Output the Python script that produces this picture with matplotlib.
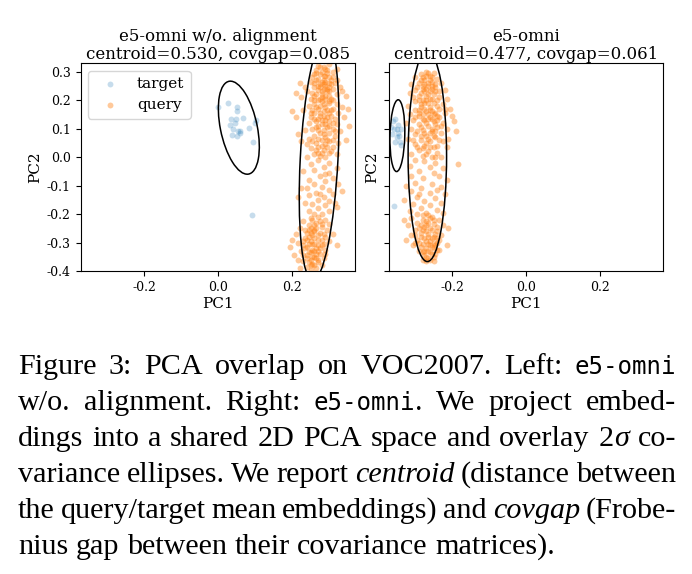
import matplotlib
matplotlib.use("Agg")
import matplotlib.pyplot as plt
from matplotlib.patches import Ellipse

plt.rcParams['font.family'] = 'DejaVu Serif'
plt.rcParams['axes.unicode_minus'] = False

# ---- data ----
panel_titles = ["e5-omni w/o. alignment\ncentroid=0.530, covgap=0.085",
                "e5-omni\ncentroid=0.477, covgap=0.061"]
x_ticks = [-0.2, 0.0, 0.2]
x_ticklabels = ["-0.2", "0.0", "0.2"]
y_ticks = [-0.4, -0.3, -0.2, -0.1, 0.0, 0.1, 0.2, 0.3]
y_ticklabels = ["-0.4", "-0.3", "-0.2", "-0.1", "0.0", "0.1", "0.2", "0.3"]

# left panel (w/o. alignment)
left_target_x = [0.000, 0.026, 0.052, 0.052, 0.036, 0.047, 0.067, 0.103, 0.033, 0.084,
                 0.040, 0.054, 0.060, 0.038, 0.052, 0.094, 0.092, 0.099, 0.058, 0.045]
left_target_y = [0.176, 0.190, 0.174, 0.162, 0.133, 0.133, 0.138, 0.130, 0.111, 0.103,
                 0.098, 0.092, 0.086, 0.078, 0.075, 0.051, -0.203, 0.121, 0.090, 0.118]

left_query = [
    # upper part
    (0.27, 0.32), (0.29, 0.31), (0.30, 0.325), (0.28, 0.30), (0.31, 0.30), (0.26, 0.29), (0.285, 0.285),
    (0.30, 0.28), (0.27, 0.275), (0.32, 0.27), (0.25, 0.265), (0.29, 0.265), (0.275, 0.255), (0.305, 0.255),
    (0.22, 0.26), (0.26, 0.245), (0.285, 0.24), (0.31, 0.24), (0.33, 0.245), (0.27, 0.235), (0.295, 0.23),
    (0.24, 0.23), (0.28, 0.22), (0.30, 0.215), (0.26, 0.215), (0.32, 0.22), (0.345, 0.215), (0.29, 0.205),
    (0.27, 0.20), (0.31, 0.20), (0.25, 0.205), (0.225, 0.21), (0.285, 0.315), (0.265, 0.305), (0.295, 0.295),
    (0.275, 0.29), (0.305, 0.27), (0.285, 0.27), (0.26, 0.26), (0.30, 0.245), (0.275, 0.245), (0.29, 0.25),
    (0.315, 0.26), (0.28, 0.21), (0.30, 0.23), (0.255, 0.225), (0.335, 0.23), (0.21, 0.225), (0.235, 0.245),
    (0.32, 0.31),
    (0.28, 0.195), (0.30, 0.19), (0.26, 0.185), (0.32, 0.185), (0.245, 0.18), (0.29, 0.175), (0.27, 0.17),
    (0.31, 0.17), (0.35, 0.17), (0.23, 0.165), (0.285, 0.16), (0.30, 0.155), (0.26, 0.155), (0.325, 0.155),
    (0.275, 0.145), (0.295, 0.14), (0.25, 0.14), (0.315, 0.135), (0.21, 0.14), (0.34, 0.14), (0.28, 0.13),
    (0.265, 0.125), (0.30, 0.125), (0.245, 0.12), (0.29, 0.115), (0.32, 0.115), (0.27, 0.11), (0.31, 0.10),
    (0.255, 0.10), (0.285, 0.095), (0.235, 0.095), (0.30, 0.085), (0.275, 0.085), (0.33, 0.09), (0.26, 0.075),
    (0.29, 0.07), (0.315, 0.075), (0.245, 0.065), (0.28, 0.06), (0.30, 0.055), (0.265, 0.05), (0.325, 0.05),
    (0.225, 0.055), (0.29, 0.045), (0.27, 0.035), (0.31, 0.035), (0.25, 0.03), (0.285, 0.025), (0.30, 0.015),
    (0.26, 0.01), (0.32, 0.01), (0.275, 0.005), (0.24, 0.0), (0.29, 0.0), (0.345, 0.06), (0.215, 0.08),
    (0.355, 0.11), (0.275, 0.18), (0.305, 0.165), (0.255, 0.165), (0.285, 0.145), (0.27, 0.095), (0.295, 0.105),
    (0.31, 0.06), (0.28, 0.04), (0.335, 0.175), (0.20, 0.16), (0.26, 0.135), (0.305, 0.02), (0.24, 0.045),
    (0.275, 0.315), (0.295, 0.305), (0.265, 0.295), (0.29, 0.285), (0.28, 0.265), (0.30, 0.26), (0.265, 0.27),
    (0.285, 0.255), (0.27, 0.25), (0.295, 0.24), (0.28, 0.23), (0.265, 0.22), (0.29, 0.215), (0.305, 0.205),
    (0.275, 0.205), (0.285, 0.185), (0.265, 0.175), (0.295, 0.165), (0.275, 0.155), (0.29, 0.13), (0.27, 0.135),
    (0.305, 0.145), (0.28, 0.115), (0.30, 0.11), (0.265, 0.105), (0.285, 0.08), (0.27, 0.065), (0.295, 0.06),
    (0.28, 0.015), (0.265, 0.025), (0.31, 0.28), (0.255, 0.28), (0.30, 0.195), (0.26, 0.20), (0.31, 0.12),
    (0.25, 0.155), (0.315, 0.09), (0.255, 0.055), (0.295, 0.035), (0.27, 0.015),
    # middle, sparser
    (0.27, -0.01), (0.30, -0.02), (0.25, -0.025), (0.285, -0.035), (0.32, -0.04), (0.26, -0.045), (0.23, -0.05),
    (0.30, -0.055), (0.275, -0.065), (0.31, -0.075), (0.245, -0.08), (0.29, -0.085), (0.26, -0.095), (0.325, -0.095),
    (0.28, -0.105), (0.225, -0.11), (0.30, -0.115), (0.265, -0.125), (0.31, -0.13), (0.245, -0.135), (0.285, -0.14),
    (0.27, -0.15), (0.30, -0.155), (0.235, -0.16), (0.255, -0.165), (0.29, -0.17), (0.32, -0.175), (0.27, -0.18),
    (0.245, -0.19), (0.30, -0.19), (0.28, -0.2), (0.26, -0.2), (0.335, -0.12), (0.215, -0.14), (0.29, -0.06),
    (0.24, -0.11), (0.315, -0.16), (0.275, -0.13),
    # lower part
    (0.27, -0.21), (0.25, -0.215), (0.29, -0.22), (0.23, -0.225), (0.265, -0.23), (0.30, -0.235), (0.245, -0.24),
    (0.28, -0.245), (0.22, -0.25), (0.26, -0.255), (0.295, -0.255), (0.24, -0.265), (0.275, -0.265), (0.21, -0.27),
    (0.255, -0.275), (0.29, -0.28), (0.235, -0.285), (0.27, -0.29), (0.25, -0.295), (0.30, -0.295), (0.215, -0.30),
    (0.26, -0.305), (0.28, -0.31), (0.24, -0.315), (0.195, -0.315), (0.265, -0.32), (0.29, -0.325), (0.225, -0.33),
    (0.25, -0.335), (0.275, -0.34), (0.24, -0.345), (0.26, -0.35), (0.205, -0.345), (0.285, -0.355), (0.25, -0.36),
    (0.23, -0.365), (0.27, -0.37), (0.255, -0.375), (0.24, -0.385), (0.265, -0.39), (0.22, -0.39), (0.25, -0.395),
    (0.28, -0.38), (0.31, -0.27), (0.32, -0.31), (0.20, -0.29), (0.26, -0.24), (0.285, -0.27), (0.245, -0.305),
    (0.265, -0.355), (0.235, -0.255), (0.275, -0.225), (0.255, -0.325), (0.215, -0.36), (0.29, -0.34), (0.245, -0.28),
    (0.26, -0.285), (0.23, -0.31), (0.27, -0.33), (0.25, -0.25),
    (0.255, -0.22), (0.28, -0.235), (0.26, -0.26), (0.245, -0.255), (0.27, -0.275), (0.24, -0.29), (0.255, -0.305),
    (0.27, -0.31), (0.235, -0.32), (0.26, -0.33), (0.245, -0.335), (0.265, -0.34), (0.24, -0.355), (0.255, -0.35),
    (0.27, -0.36), (0.245, -0.37), (0.26, -0.38), (0.23, -0.295), (0.28, -0.29), (0.25, -0.265), (0.275, -0.32),
    (0.23, -0.345), (0.265, -0.25), (0.285, -0.305), (0.25, -0.38),
]

# right panel (e5-omni)
right_target_x = [-0.359, -0.354, -0.365, -0.357, -0.350, -0.337, -0.347, -0.344, -0.350, -0.354,
                  -0.341, -0.339, -0.357, -0.362, -0.346]
right_target_y = [0.127, 0.132, 0.104, 0.100, 0.100, 0.100, 0.086, 0.075, 0.069, 0.054,
                  0.054, 0.042, -0.171, 0.080, 0.112]

right_query = [
    (-0.27, 0.30), (-0.25, 0.295), (-0.285, 0.29), (-0.26, 0.285), (-0.30, 0.28), (-0.24, 0.275), (-0.275, 0.27),
    (-0.255, 0.265), (-0.29, 0.26), (-0.23, 0.26), (-0.31, 0.255), (-0.265, 0.25), (-0.245, 0.245), (-0.28, 0.24),
    (-0.30, 0.235), (-0.26, 0.23), (-0.22, 0.235), (-0.285, 0.225), (-0.25, 0.22), (-0.27, 0.215), (-0.305, 0.21),
    (-0.235, 0.21), (-0.26, 0.205), (-0.29, 0.20), (-0.215, 0.205), (-0.28, 0.28), (-0.265, 0.26), (-0.245, 0.255),
    (-0.295, 0.245), (-0.275, 0.23), (-0.235, 0.23), (-0.315, 0.225), (-0.255, 0.24), (-0.27, 0.2), (-0.24, 0.2),
    (-0.30, 0.195), (-0.275, 0.19), (-0.25, 0.19), (-0.225, 0.185), (-0.32, 0.18), (-0.285, 0.175), (-0.26, 0.175),
    (-0.235, 0.17), (-0.205, 0.17), (-0.30, 0.165), (-0.27, 0.16), (-0.245, 0.155), (-0.22, 0.155), (-0.315, 0.15),
    (-0.29, 0.145), (-0.26, 0.14), (-0.235, 0.14), (-0.20, 0.145), (-0.305, 0.13), (-0.275, 0.13), (-0.25, 0.125),
    (-0.225, 0.12), (-0.29, 0.115), (-0.265, 0.11), (-0.24, 0.105), (-0.31, 0.10), (-0.215, 0.10), (-0.28, 0.095),
    (-0.255, 0.09), (-0.23, 0.085), (-0.30, 0.08), (-0.27, 0.075), (-0.245, 0.07), (-0.32, 0.065), (-0.285, 0.06),
    (-0.26, 0.055), (-0.225, 0.055), (-0.30, 0.045), (-0.275, 0.04), (-0.25, 0.035), (-0.215, 0.035), (-0.29, 0.025),
    (-0.265, 0.02), (-0.24, 0.015), (-0.31, 0.01), (-0.28, 0.005), (-0.255, 0.0), (-0.23, 0.0), (-0.19, 0.09),
    (-0.195, 0.125), (-0.285, 0.185), (-0.26, 0.165), (-0.28, 0.15), (-0.24, 0.13), (-0.295, 0.09), (-0.26, 0.085),
    (-0.235, 0.06), (-0.27, 0.05), (-0.29, 0.165), (-0.25, 0.15), (-0.265, 0.135), (-0.245, 0.09), (-0.28, 0.03),
    (-0.325, 0.12), (-0.21, 0.065),
    (-0.265, 0.295), (-0.255, 0.28), (-0.27, 0.285), (-0.285, 0.27), (-0.26, 0.27), (-0.275, 0.255), (-0.255, 0.25),
    (-0.28, 0.25), (-0.27, 0.24), (-0.245, 0.23), (-0.265, 0.22), (-0.29, 0.215), (-0.255, 0.205), (-0.28, 0.2),
    (-0.265, 0.19), (-0.24, 0.18), (-0.275, 0.17), (-0.255, 0.16), (-0.29, 0.155), (-0.265, 0.15), (-0.24, 0.145),
    (-0.28, 0.135), (-0.255, 0.135), (-0.27, 0.12), (-0.245, 0.115), (-0.285, 0.105), (-0.255, 0.1), (-0.275, 0.085),
    (-0.25, 0.075), (-0.285, 0.075), (-0.265, 0.065), (-0.24, 0.04), (-0.26, 0.035), (-0.295, 0.035), (-0.27, 0.01),
    (-0.245, 0.0), (-0.23, 0.11), (-0.3, 0.14), (-0.22, 0.17), (-0.305, 0.06),
    (-0.30, -0.01), (-0.275, -0.015), (-0.245, -0.02), (-0.185, -0.025), (-0.315, -0.03), (-0.26, -0.035),
    (-0.225, -0.04), (-0.29, -0.05), (-0.31, -0.065), (-0.235, -0.065), (-0.28, -0.075), (-0.215, -0.08),
    (-0.30, -0.09), (-0.255, -0.095), (-0.325, -0.10), (-0.23, -0.105), (-0.285, -0.11), (-0.31, -0.12),
    (-0.26, -0.125), (-0.22, -0.13), (-0.295, -0.14), (-0.245, -0.145), (-0.33, -0.15), (-0.275, -0.155),
    (-0.23, -0.16), (-0.305, -0.165), (-0.26, -0.17), (-0.285, -0.18), (-0.24, -0.185), (-0.315, -0.19),
    (-0.27, -0.195), (-0.225, -0.195), (-0.295, -0.2), (-0.25, -0.055), (-0.29, -0.13), (-0.24, -0.115),
    (-0.28, -0.205), (-0.255, -0.21), (-0.31, -0.215), (-0.235, -0.22), (-0.27, -0.225), (-0.295, -0.23),
    (-0.25, -0.235), (-0.32, -0.24), (-0.225, -0.24), (-0.275, -0.245), (-0.26, -0.25), (-0.30, -0.255),
    (-0.24, -0.26), (-0.285, -0.265), (-0.265, -0.27), (-0.31, -0.275), (-0.23, -0.275), (-0.25, -0.28),
    (-0.275, -0.285), (-0.295, -0.29), (-0.26, -0.295), (-0.24, -0.30), (-0.28, -0.305), (-0.305, -0.31),
    (-0.255, -0.315), (-0.27, -0.32), (-0.235, -0.325), (-0.29, -0.33), (-0.26, -0.335), (-0.275, -0.345),
    (-0.25, -0.35), (-0.265, -0.355), (-0.28, -0.36), (-0.245, -0.34), (-0.215, -0.31), (-0.325, -0.29),
    (-0.265, -0.23), (-0.245, -0.27), (-0.285, -0.24), (-0.26, -0.31), (-0.27, -0.26), (-0.29, -0.3),
    (-0.255, -0.285), (-0.275, -0.33), (-0.24, -0.325), (-0.3, -0.275), (-0.26, -0.215), (-0.21, -0.25),
    (-0.33, -0.22), (-0.25, -0.365),
    (-0.265, -0.205), (-0.28, -0.22), (-0.25, -0.22), (-0.27, -0.24), (-0.255, -0.255), (-0.28, -0.255),
    (-0.265, -0.28), (-0.24, -0.285), (-0.285, -0.28), (-0.27, -0.295), (-0.25, -0.3), (-0.265, -0.305),
    (-0.285, -0.315), (-0.25, -0.32), (-0.265, -0.33), (-0.255, -0.34), (-0.27, -0.35), (-0.26, -0.36),
    (-0.28, -0.335), (-0.245, -0.31), (-0.29, -0.25), (-0.24, -0.245), (-0.3, -0.3), (-0.235, -0.29),
    (-0.27, -0.365),
]

# 2-sigma ellipses: (center x, center y, full width, full height, angle deg)
left_target_ell = (0.056, 0.103, 0.33, 0.10, 98.7)
left_query_ell = (0.273, -0.007, 0.854, 0.102, 87.7)
right_target_ell = (-0.348, 0.075, 0.252, 0.040, 89.0)
right_query_ell = (-0.267, 0.003, 0.740, 0.104, 90.0)

caption_lines = [
    [[("Figure", "rm")], [("3:", "rm")], [("PCA", "rm")], [("overlap", "rm")], [("on", "rm")],
     [("VOC2007.", "rm")], [("Left:", "rm")], [("e5-omni", "tt")]],
    [[("w/o.", "rm")], [("alignment.", "rm")], [("Right:", "rm")], [("e5-omni", "tt"), (".", "rm")],
     [("We", "rm")], [("project", "rm")], [("embed-", "rm")]],
    [[("dings", "rm")], [("into", "rm")], [("a", "rm")], [("shared", "rm")], [("2D", "rm")], [("PCA", "rm")],
     [("space", "rm")], [("and", "rm")], [("overlay", "rm")], [("2", "rm"), ("σ", "it")], [("co-", "rm")]],
    [[("variance", "rm")], [("ellipses.", "rm")], [("We", "rm")], [("report", "rm")], [("centroid", "it")],
     [("(distance", "rm")], [("between", "rm")]],
    [[("the", "rm")], [("query/target", "rm")], [("mean", "rm")], [("embeddings)", "rm")], [("and", "rm")],
     [("covgap", "it")], [("(Frobe-", "rm")]],
    [[("nius", "rm")], [("gap", "rm")], [("between", "rm")], [("their", "rm")], [("covariance", "rm")],
     [("matrices).", "rm")]],
]

W, H = 692, 574
fig = plt.figure(figsize=(W / 100, H / 100), dpi=100)

blue = '#1f77b4'
orange = '#ff7f0e'

panels = [
    (left_target_x, left_target_y, left_query, left_target_ell, left_query_ell, 80.5),
    (right_target_x, right_target_y, right_query, right_target_ell, right_query_ell, 388.5),
]

for i, (tx, ty, qpts, tell, qell, left_px) in enumerate(panels):
    ax = fig.add_axes([left_px / W, 1 - 271 / H, 274.5 / W, 208 / H])
    qx = [p[0] for p in qpts]
    qy = [p[1] for p in qpts]
    ax.scatter(tx, ty, s=18, color=blue, alpha=0.25, linewidths=0, label='target')
    ax.scatter(qx, qy, s=18, color=orange, alpha=0.42, linewidths=0, label='query')
    for (cx, cy, w, h, ang) in (tell, qell):
        ax.add_patch(Ellipse((cx, cy), w, h, angle=ang, fill=False, edgecolor='black', linewidth=1.1))
    ax.set_xlim(-0.372, 0.37)
    ax.set_ylim(-0.4, 0.33)
    ax.set_xticks(x_ticks)
    ax.set_xticklabels(x_ticklabels)
    ax.set_yticks(y_ticks)
    ax.set_yticklabels(y_ticklabels)
    ax.tick_params(labelsize=9)
    ax.set_xlabel('PC1', fontsize=11, labelpad=2)
    ax.set_ylabel('PC2', fontsize=11, labelpad=3)
    ax.set_title(panel_titles[i], fontsize=12, linespacing=1.05, pad=3)
    if i == 1:
        ax.tick_params(labelleft=False)
    else:
        ax.legend(loc='upper left', fontsize=11, borderaxespad=0.5)

# caption below the figure, justified like the paper
cap_size = 21.7
styles = {
    'rm': dict(family='Liberation Serif', size=cap_size),
    'it': dict(family='Liberation Serif', style='italic', size=cap_size),
    'tt': dict(family='DejaVu Sans Mono', size=cap_size * 0.8),
}
x_left, x_right = 18, 676
baseline0, line_gap = 374, 36

fig.canvas.draw()
renderer = fig.canvas.get_renderer()


def measure(s, st):
    t = fig.text(0, 0, s, **styles[st])
    w = t.get_window_extent(renderer).width
    t.remove()
    return w


space_w = measure("a a", 'rm') - measure("aa", 'rm')

for li, words in enumerate(caption_lines):
    widths = [sum(measure(txt, st) for txt, st in word) for word in words]
    if li < len(caption_lines) - 1:
        gap = (x_right - x_left - sum(widths)) / (len(words) - 1)
    else:
        gap = space_w
    yb = 1 - (baseline0 + li * line_gap) / H
    x = x_left
    for word, wd in zip(words, widths):
        xx = x
        for txt, st in word:
            fig.text(xx / W, yb, txt, va='baseline', ha='left', **styles[st])
            xx += measure(txt, st)
        x += wd + gap

fig.savefig('out.png', dpi=100)
